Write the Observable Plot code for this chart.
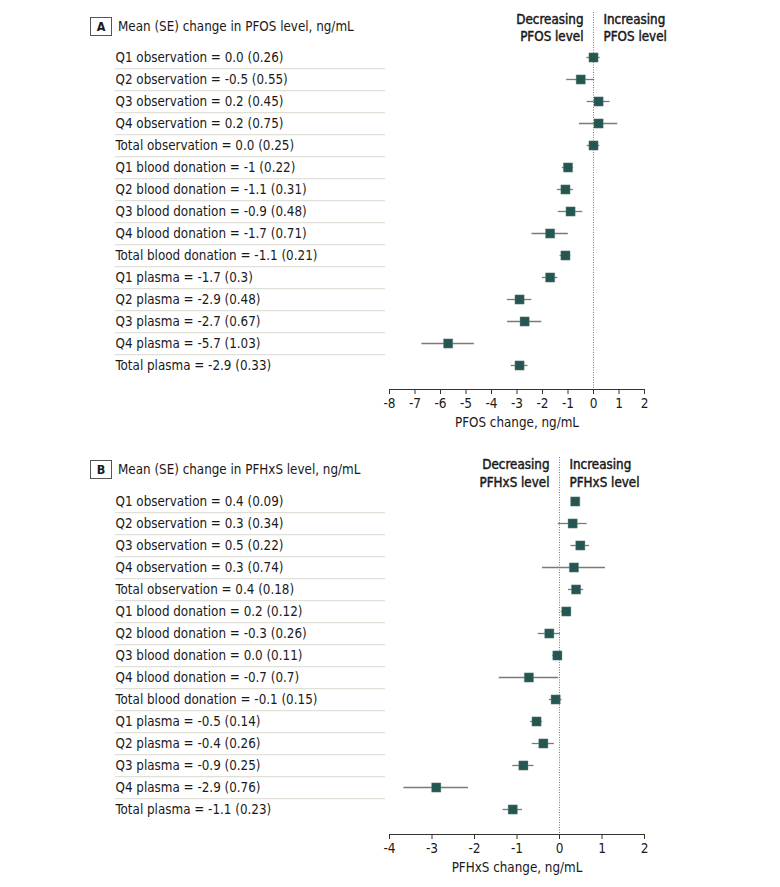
<!DOCTYPE html>
<html><head><meta charset="utf-8">
<script src="https://cdn.jsdelivr.net/npm/d3@7"></script>
<script src="https://cdn.jsdelivr.net/npm/@observablehq/plot@0.6"></script>
<style>
body{margin:0;background:#fff;}
#page{position:relative;width:780px;height:887px;font-family:"DejaVu Sans Condensed","DejaVu Sans",sans-serif;font-stretch:condensed;color:#1a1a1a;}
.svgwrap{position:absolute;left:0;}
.tag{position:absolute;left:90px;width:20px;height:17px;border:1px solid #555;font-weight:bold;font-size:12.5px;text-align:center;line-height:17px;box-sizing:content-box;}
.title{position:absolute;left:118px;font-size:13.3px;line-height:19px;}
</style></head>
<body><div id="page"></div>
<script>
const groups = [
  "Q1 observation","Q2 observation","Q3 observation","Q4 observation","Total observation",
  "Q1 blood donation","Q2 blood donation","Q3 blood donation","Q4 blood donation","Total blood donation",
  "Q1 plasma","Q2 plasma","Q3 plasma","Q4 plasma","Total plasma"
];
// Panel A: PFOS
const pfosMeanText = ["0.0","-0.5","0.2","0.2","0.0","-1","-1.1","-0.9","-1.7","-1.1","-1.7","-2.9","-2.7","-5.7","-2.9"];
const pfosMean = [0.0,-0.5,0.2,0.2,0.0,-1.0,-1.1,-0.9,-1.7,-1.1,-1.7,-2.9,-2.7,-5.7,-2.9];
const pfosSE = ["0.26","0.55","0.45","0.75","0.25","0.22","0.31","0.48","0.71","0.21","0.3","0.48","0.67","1.03","0.33"];
const pfosTicks = [-8,-7,-6,-5,-4,-3,-2,-1,0,1,2];
// Panel B: PFHxS
const pfhxsMeanText = ["0.4","0.3","0.5","0.3","0.4","0.2","-0.3","0.0","-0.7","-0.1","-0.5","-0.4","-0.9","-2.9","-1.1"];
const pfhxsMean = [0.37,0.31,0.49,0.34,0.39,0.16,-0.24,-0.05,-0.72,-0.09,-0.54,-0.38,-0.85,-2.9,-1.1];
const pfhxsSE = ["0.09","0.34","0.22","0.74","0.18","0.12","0.26","0.11","0.7","0.15","0.14","0.26","0.25","0.76","0.23"];
const pfhxsTicks = [-4,-3,-2,-1,0,1,2];

const FONT = '"DejaVu Sans Condensed","DejaVu Sans",sans-serif';
const page = document.getElementById("page");

function panel(cfg) {
  const rows = groups.map((g, i) => ({
    label: g,
    text: `${g} = ${cfg.meanText[i]} (${cfg.se[i]})`,
    mean: cfg.mean[i],
    se: +cfg.se[i]
  }));
  const gap = (cfg.rowBottom - cfg.rowTop) / (groups.length - 1);
  const chart = Plot.plot({
    width: 780,
    height: cfg.height,
    marginLeft: 389, marginRight: 136,
    marginTop: cfg.marginTop, marginBottom: cfg.marginBottom,
    style: {fontFamily: FONT, fontSize: "13.3px", color: "#1a1a1a", background: "transparent"},
    x: {domain: cfg.domain},
    y: {type: "point", domain: groups, range: [cfg.rowTop, cfg.rowBottom], padding: 0, axis: null},
    marks: [
      Plot.ruleY(groups.slice(0, -1), {dy: gap / 2, stroke: "#d8d8d0", strokeWidth: 1, insetLeft: -274, insetRight: 259}),
      Plot.text(rows, {y: "label", text: "text", frameAnchor: "left", textAnchor: "start", dx: -274, fontSize: 13.3, fill: "#1a1a1a"}),
      Plot.ruleX([0], {stroke: "#777", strokeDasharray: "1,1.5", strokeWidth: 1}),
      Plot.text([0], {x: d => d, text: () => `Decreasing\n${cfg.compound} level`, frameAnchor: "top", lineAnchor: "middle", dy: cfg.headDy, dx: -10, textAnchor: "end", lineHeight: 1.32, fontSize: 13.3, fill: "#1a1a1a", stroke: "#1a1a1a", strokeWidth: 0.45}),
      Plot.text([0], {x: d => d, text: () => `Increasing\n${cfg.compound} level`, frameAnchor: "top", lineAnchor: "middle", dy: cfg.headDy, dx: 10, textAnchor: "start", lineHeight: 1.32, fontSize: 13.3, fill: "#1a1a1a", stroke: "#1a1a1a", strokeWidth: 0.45}),
      Plot.ruleY(rows, {y: "label", x1: d => d.mean - d.se, x2: d => d.mean + d.se, stroke: "#7a7a7a", strokeWidth: 1.3}),
      Plot.dot(rows, {x: "mean", y: "label", symbol: "square", r: 5.2, fill: "#255652", stroke: "#6a8c88", strokeWidth: 0.4}),
      Plot.frame({anchor: "bottom", stroke: "#333"}),
      Plot.axisX({ticks: cfg.ticks, tickFormat: d => String(d), tickSize: 5, tickPadding: 4, label: null, fontSize: 13.5, stroke: "#333"}),
      Plot.text([cfg.axisLabel], {frameAnchor: "bottom", lineAnchor: "middle", dy: 33, fontSize: 13.3})
    ]
  });
  const wrap = document.createElement("div");
  wrap.className = "svgwrap";
  wrap.style.top = cfg.top + "px";
  wrap.appendChild(chart);
  page.appendChild(wrap);

  const tag = document.createElement("div");
  tag.className = "tag";
  tag.style.top = cfg.tagTop + "px";
  tag.textContent = cfg.tag;
  page.appendChild(tag);
  const title = document.createElement("div");
  title.className = "title";
  title.style.top = (cfg.tagTop) + "px";
  title.textContent = cfg.title;
  page.appendChild(title);
}

panel({
  top: 0, height: 440, marginTop: 12, marginBottom: 51,
  rowTop: 54, rowBottom: 368, domain: [-8, 2], ticks: pfosTicks,
  mean: pfosMean, meanText: pfosMeanText, se: pfosSE,
  compound: "PFOS", headDy: 14.5, axisLabel: "PFOS change, ng/mL",
  tag: "A", tagTop: 17, title: "Mean (SE) change in PFOS level, ng/mL"
});
panel({
  top: 440, height: 447, marginTop: 17, marginBottom: 53,
  rowTop: 58, rowBottom: 372, domain: [-4, 2], ticks: pfhxsTicks,
  mean: pfhxsMean, meanText: pfhxsMeanText, se: pfhxsSE,
  compound: "PFHxS", headDy: 15, axisLabel: "PFHxS change, ng/mL",
  tag: "B", tagTop: 460, title: "Mean (SE) change in PFHxS level, ng/mL"
});
</script>
</body></html>
